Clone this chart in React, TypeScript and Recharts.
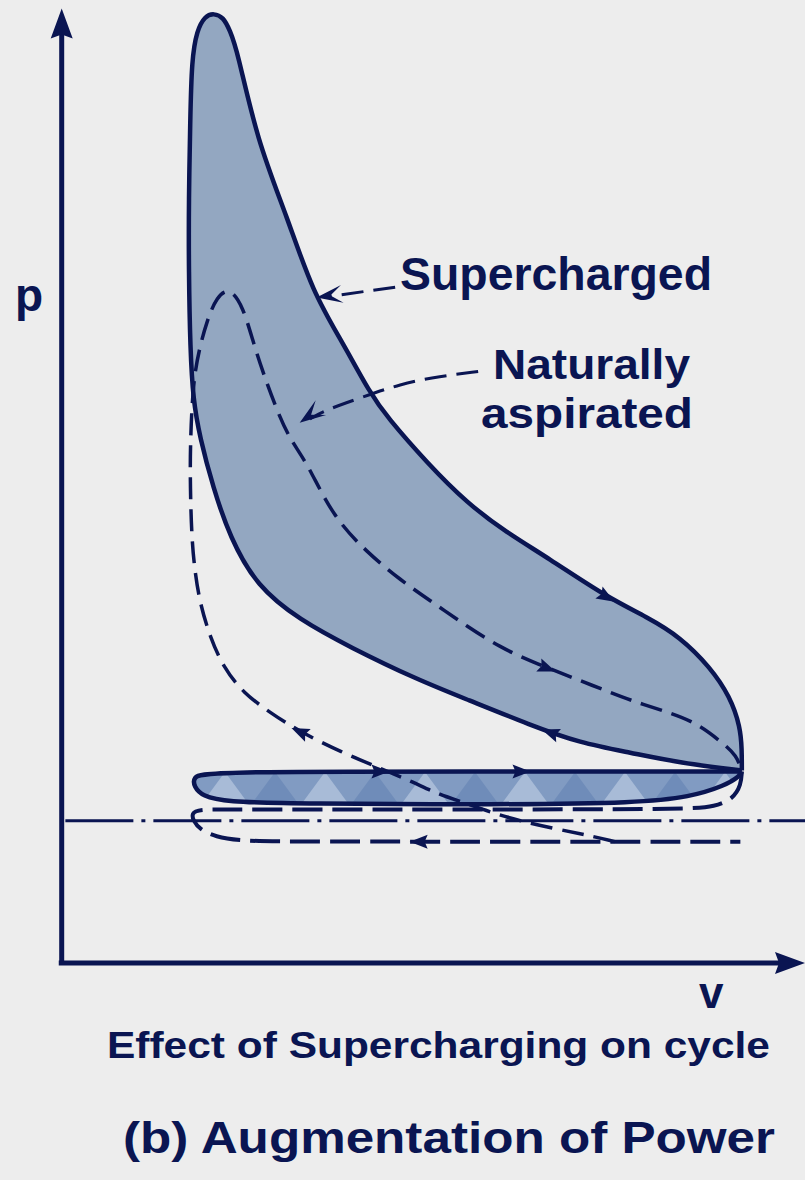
import React from 'react';
import { ScatterChart, Scatter, XAxis, YAxis } from 'recharts';

// p-v diagram, v and p in arbitrary diagram units (origin at the axes corner)
const CHART_W = 805;
const CHART_H = 1180;
const X_DOMAIN: [number, number] = [-0.84, 10.12];
const Y_DOMAIN: [number, number] = [-2.29, 10.16];

const INK = '#0a1552';
const LOBE = '#93a7c1';
const BG = '#ededed';

// supercharged power loop (closed, corner at end of expansion repeated)
const superchargedLoop = [
  [9.26, 2.03], [9.26, 2.03], [9.26, 2.03],
  [8.42, 2.11], [7.74, 2.22], [7.06, 2.32], [6.38, 2.51], [5.52, 2.78],
  [4.84, 2.99], [3.93, 3.33], [3.24, 3.62], [2.66, 3.97], [2.29, 4.49],
  [2.06, 5.02], [1.88, 5.55], [1.79, 5.94], [1.75, 6.47], [1.73, 7.31],
  [1.73, 8.05], [1.75, 8.89], [1.77, 9.53], [1.84, 9.84], [1.95, 9.99],
  [2.07, 10.02], [2.2, 9.98], [2.29, 9.84], [2.39, 9.63], [2.66, 8.68],
  [3.07, 7.87], [3.42, 7.07], [3.83, 6.54], [4.2, 6.01], [4.43, 5.76],
  [4.97, 5.28], [5.52, 4.85], [6.06, 4.54], [6.61, 4.28], [7.42, 3.86],
  [7.97, 3.65], [8.42, 3.44], [8.83, 3.12], [9.1, 2.81], [9.24, 2.49],
  [9.26, 2.25],
];

// supercharged pumping loop (positive, shaded)
const superchargedPumping = [
  [9.26, 2.02], [9.26, 2.02], [9.26, 2.02],
  [5.56, 2.02], [1.95, 2.02], [1.79, 1.96], [1.8, 1.86], [1.92, 1.76],
  [2.22, 1.7], [3.24, 1.68], [5.97, 1.67], [7.87, 1.69], [8.55, 1.75],
  [9.03, 1.87], [9.23, 1.97],
];

// naturally aspirated compression + combustion + expansion
const naturalCycle = [
  [7.53, 1.28], [7.15, 1.35], [6.69, 1.42], [6.06, 1.53], [5.44, 1.7],
  [5.07, 1.8], [4.81, 1.9], [4.32, 2.06], [3.82, 2.22], [3.24, 2.44],
  [2.84, 2.64], [2.47, 2.85], [2.2, 3.12], [2.02, 3.44], [1.88, 3.8],
  [1.81, 4.15], [1.77, 4.49], [1.75, 5.02], [1.75, 5.49], [1.79, 6.15],
  [1.88, 6.5], [1.98, 6.78], [2.11, 7.03], [2.29, 7.13], [2.47, 6.92],
  [2.6, 6.57], [2.74, 6.23], [2.93, 5.83], [3.11, 5.52], [3.34, 5.28],
  [3.69, 4.71], [4.16, 4.33], [4.61, 4.04], [5.06, 3.8], [5.52, 3.55],
  [5.97, 3.33], [6.42, 3.17], [7.29, 2.91], [7.74, 2.77], [8.28, 2.64],
  [8.65, 2.53], [9.0, 2.32], [9.19, 2.19], [9.26, 2.02],
];

// naturally aspirated exhaust / intake strokes
const naturalPumping = [
  [9.26, 2.02], [9.25, 1.88], [9.14, 1.73], [8.89, 1.65], [8.55, 1.62],
  [5.29, 1.62], [2.29, 1.62], [1.86, 1.62], [1.77, 1.58], [1.79, 1.5],
  [1.88, 1.41], [2.09, 1.33], [2.43, 1.29], [2.97, 1.28], [5.97, 1.28],
  [9.24, 1.28],
];

const atmosphericLine = [[0.05, 1.5], [10.12, 1.5]];
const pAxis = [[0, -0.02], [0, 9.8]];
const vAxis = [[-0.04, 0], [9.9, 0]];

// axis arrow tips: point + direction
const axisTips = [
  { v: 0, p: 10.07, dv: 0, dp: 1 },
  { v: 10.12, p: 0, dv: 1, dp: 0 },
];

// flow arrows along the curves: point + direction
const flowArrows = [
  { v: 7.42, p: 3.86, dv: 1.36, dp: -0.63 },
  { v: 6.65, p: 2.43, dv: -0.68, dp: 0.19 },
  { v: 6.61, p: 3.11, dv: 0.87, dp: -0.26 },
  { v: 3.24, p: 2.44, dv: -0.58, dp: 0.2 },
  { v: 4.34, p: 2.02, dv: 1, dp: 0 },
  { v: 6.26, p: 2.02, dv: 1, dp: 0 },
  { v: 4.86, p: 1.28, dv: -1, dp: 0 },
];

// label leaders
const superLeader = [[4.54, 7.13], [3.62, 7.03]];
const naturalLeader = [[5.67, 6.24], [5.15, 6.19], [4.61, 6.11], [4.06, 5.96], [3.58, 5.83], [3.38, 5.74]];
const leaderTips = [
  { v: 3.47, p: 7.02, dv: -1.05, dp: -0.12 },
  { v: 3.24, p: 5.7, dv: -0.31, dp: -0.17 },
];

const pts = (a: number[][]) => a.map(([v, p]) => ({ v, p }));

const pxPerV = CHART_W / (X_DOMAIN[1] - X_DOMAIN[0]);
const pxPerP = CHART_H / (Y_DOMAIN[1] - Y_DOMAIN[0]);

const noDot = () => <g />;

const head = (len: number, half: number, notch: number, atTip: boolean) => (props: any) => {
  const { cx, cy, payload } = props;
  const a = (Math.atan2(-payload.dp * pxPerP, payload.dv * pxPerV) * 180) / Math.PI;
  const t = atTip ? 0 : len / 2;
  const b = t - len;
  return (
    <polygon
      points={`${t},0 ${b},${-half} ${b + notch},0 ${b},${half}`}
      transform={`translate(${cx},${cy}) rotate(${a})`}
      fill={INK}
    />
  );
};

export default function App() {
  const textStyle = { fontFamily: '"Liberation Sans", Arial, sans-serif', fontWeight: 700, fill: INK };
  return (
    <div style={{ position: 'absolute', left: 0, top: 0, width: CHART_W, height: CHART_H, background: BG }}>
      <ScatterChart width={CHART_W} height={CHART_H} margin={{ top: 0, right: 0, bottom: 0, left: 0 }}>
        <defs>
          <pattern id="pumpFill" patternUnits="userSpaceOnUse" width="100" height="34" y="772">
            <rect width="100" height="34" fill="#819bc2" />
            <polygon points="0,34 25,0 50,34" fill="#a8bbd7" />
            <polygon points="50,34 75,0 100,34" fill="#6f8cb9" />
          </pattern>
        </defs>
        <XAxis type="number" dataKey="v" domain={X_DOMAIN} hide allowDataOverflow />
        <YAxis type="number" dataKey="p" domain={Y_DOMAIN} hide allowDataOverflow />

        <Scatter data={pts(atmosphericLine)} line={{ stroke: INK, strokeWidth: 3, strokeDasharray: '68 8 4 8' }} shape={noDot} isAnimationActive={false} />
        <Scatter data={pts(pAxis)} line={{ stroke: INK, strokeWidth: 5 }} shape={noDot} isAnimationActive={false} />
        <Scatter data={pts(vAxis)} line={{ stroke: INK, strokeWidth: 5 }} shape={noDot} isAnimationActive={false} />
        <Scatter data={axisTips} shape={head(30, 11, 4, true)} isAnimationActive={false} />

        <Scatter
          data={pts(superchargedLoop)}
          line={{ stroke: INK, strokeWidth: 4.5, fill: LOBE, strokeLinejoin: 'round' }}
          lineJointType="basisClosed"
          shape={noDot}
          isAnimationActive={false}
        />
        <Scatter
          data={pts(superchargedPumping)}
          line={{ stroke: INK, strokeWidth: 4.5, fill: 'url(#pumpFill)', strokeLinejoin: 'round' }}
          lineJointType="basisClosed"
          shape={noDot}
          isAnimationActive={false}
        />
        <Scatter
          data={pts(naturalCycle)}
          line={{ stroke: INK, strokeWidth: 3.5, strokeDasharray: '22 10' }}
          lineJointType="basis"
          shape={noDot}
          isAnimationActive={false}
        />
        <Scatter
          data={pts(naturalPumping)}
          line={{ stroke: INK, strokeWidth: 4, strokeDasharray: '30 10' }}
          lineJointType="basis"
          shape={noDot}
          isAnimationActive={false}
        />
        <Scatter data={flowArrows} shape={head(18, 7, 3, false)} isAnimationActive={false} />

        <Scatter data={pts(superLeader)} line={{ stroke: INK, strokeWidth: 3, strokeDasharray: '22 10' }} shape={noDot} isAnimationActive={false} />
        <Scatter data={pts(naturalLeader)} line={{ stroke: INK, strokeWidth: 3, strokeDasharray: '22 10' }} lineJointType="basis" shape={noDot} isAnimationActive={false} />
        <Scatter data={leaderTips} shape={head(26, 9, 12, true)} isAnimationActive={false} />
      </ScatterChart>

      <svg width={CHART_W} height={CHART_H} style={{ position: 'absolute', left: 0, top: 0, pointerEvents: 'none' }}>
        <text x={15} y={311} fontSize={46} style={textStyle}>p</text>
        <text x={699} y={1008} fontSize={44} style={textStyle}>v</text>
        <text x={400} y={290} fontSize={46} textLength={312} lengthAdjust="spacingAndGlyphs" style={textStyle}>Supercharged</text>
        <text x={493} y={379} fontSize={42} textLength={197} lengthAdjust="spacingAndGlyphs" style={textStyle}>Naturally</text>
        <text x={481} y={428} fontSize={42} textLength={212} lengthAdjust="spacingAndGlyphs" style={textStyle}>aspirated</text>
        <text x={107} y={1058} fontSize={36} textLength={663} lengthAdjust="spacingAndGlyphs" style={textStyle}>Effect of Supercharging on cycle</text>
        <text x={123} y={1153} fontSize={44} textLength={652} lengthAdjust="spacingAndGlyphs" style={textStyle}>(b) Augmentation of Power</text>
      </svg>
    </div>
  );
}
